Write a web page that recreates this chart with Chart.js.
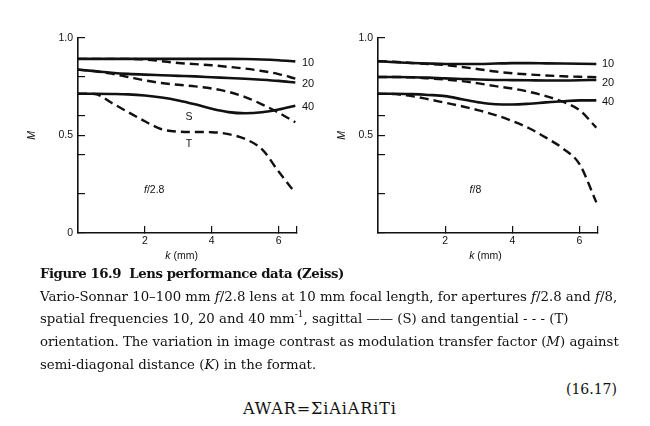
<!DOCTYPE html>
<html><head><meta charset="utf-8">
<script src="https://cdn.jsdelivr.net/npm/chart.js@4.4.0/dist/chart.umd.min.js"></script>
<style>
html,body{margin:0;padding:0;background:#fff;width:650px;height:426px;overflow:hidden;}
#cL{position:absolute;left:0;top:0;}
#cR{position:absolute;left:325px;top:0;}
#cap{position:absolute;left:40px;top:263px;font-family:'DejaVu Serif',serif;font-size:13.3px;line-height:22.7px;color:#111;white-space:nowrap;}
#cap b{font-size:13.3px;letter-spacing:-0.45px;}
sup{font-size:9px;line-height:0;vertical-align:6px;}
#eqn{position:absolute;right:33px;top:381px;font-family:'DejaVu Serif',serif;font-size:14px;color:#111;}
#awar{position:absolute;left:243px;top:399px;font-family:'DejaVu Serif',serif;font-size:16px;letter-spacing:0.9px;color:#111;}
</style></head>
<body>
<canvas id="cL" width="325" height="268"></canvas>
<canvas id="cR" width="325" height="268"></canvas>
<div id="cap"><b>Figure 16.9&nbsp; Lens performance data (Zeiss)</b><br>Vario-Sonnar 10–100 mm <i>f</i>/2.8 lens at 10 mm focal length, for apertures <i>f</i>/2.8 and <i>f</i>/8,<br>spatial frequencies 10, 20 and 40 mm<sup>-1</sup>, sagittal —— (S) and tangential - - - (T)<br>orientation. The variation in image contrast as modulation transfer factor (<i>M</i>) against<br>semi-diagonal distance (<i>K</i>) in the format.</div>
<div id="eqn">(16.17)</div>
<div id="awar">AWAR=ΣiAiARiTi</div>
<script>
// semi-diagonal distance k (mm)
const k = [0,0.5,1,1.5,2,2.5,3,3.5,4,4.5,5,5.5,6,6.5];
// f/2.8 — MTF (M) for 10, 20, 40 mm^-1, sagittal (S) and tangential (T)
const f28_10S = [0.893,0.893,0.893,0.893,0.893,0.893,0.893,0.893,0.893,0.893,0.892,0.890,0.886,0.880];
const f28_10T = [0.893,0.893,0.893,0.893,0.890,0.881,0.872,0.866,0.860,0.852,0.843,0.831,0.815,0.792];
const f28_20S = [0.838,0.830,0.822,0.816,0.812,0.809,0.806,0.803,0.799,0.795,0.791,0.786,0.780,0.772];
const f28_20T = [0.838,0.830,0.817,0.800,0.783,0.769,0.760,0.752,0.741,0.724,0.697,0.660,0.617,0.568];
const f28_40S = [0.714,0.714,0.713,0.711,0.705,0.695,0.680,0.660,0.637,0.620,0.614,0.619,0.633,0.653];
const f28_40T = [0.714,0.713,0.668,0.620,0.573,0.532,0.520,0.518,0.517,0.507,0.482,0.430,0.315,0.205];
// f/8
const f8_10S = [0.881,0.876,0.872,0.869,0.867,0.867,0.867,0.869,0.871,0.871,0.870,0.869,0.868,0.867];
const f8_10T = [0.881,0.878,0.872,0.867,0.861,0.851,0.840,0.828,0.819,0.813,0.808,0.804,0.801,0.799];
const f8_20S = [0.800,0.800,0.799,0.797,0.793,0.790,0.787,0.785,0.784,0.783,0.782,0.782,0.783,0.785];
const f8_20T = [0.800,0.800,0.798,0.793,0.787,0.779,0.767,0.753,0.741,0.724,0.702,0.673,0.630,0.540];
const f8_40S = [0.714,0.714,0.712,0.708,0.702,0.686,0.670,0.660,0.659,0.663,0.670,0.676,0.680,0.680];
const f8_40T = [0.714,0.712,0.702,0.686,0.668,0.650,0.629,0.605,0.574,0.537,0.489,0.434,0.353,0.157];
// axis ticks
const xTicks = [2,4,6,6.55];
const xTickLabels = ['2','4','6',''];
const yTicks = [0,0.2,0.4,0.5,0.6,0.8,1.0];
const yTickLabelsLeft = ['0','','','0.5','','','1.0'];
const yTickLabelsRight = ['','','','0.5','','','1.0'];
const freqLabels = ['10','20','40'];

const SANS = "'Liberation Sans', Arial, sans-serif";
const INK = '#111';

const textPlugin = {
  id: 'txt',
  afterDatasetsDraw(chart, args, opts) {
    const {ctx, chartArea} = chart;
    const x = chart.scales.x, y = chart.scales.y;
    ctx.save();
    ctx.fillStyle = INK;
    ctx.textBaseline = 'middle';
    (opts.items || []).forEach(it => {
      const parts = it.parts;
      const size = it.size || 11;
      let w = 0;
      parts.forEach(p => { ctx.font = (p[1] ? 'italic ' : '') + size + 'px ' + SANS; w += ctx.measureText(p[0]).width; });
      let px = it.px != null ? chartArea.right + it.px : x.getPixelForValue(it.x) - (it.align === 'left' ? 0 : w / 2);
      const py = it.dy != null ? chartArea.bottom + it.dy : y.getPixelForValue(it.y);
      ctx.textAlign = 'left';
      parts.forEach(p => {
        ctx.font = (p[1] ? 'italic ' : '') + size + 'px ' + SANS;
        ctx.fillText(p[0], px, py);
        px += ctx.measureText(p[0]).width;
      });
    });
    ctx.restore();
  }
};

function makeChart(id, series, cfg) {
  return new Chart(document.getElementById(id), {
    type: 'line',
    data: {
      datasets: series.map(s => ({
        data: k.map((kk, i) => ({x: kk, y: s.v[i]})),
        borderColor: INK,
        borderWidth: s.dashed ? 2.4 : 2.6,
        borderDash: s.dashed ? [9, 5] : [],
        pointRadius: 0,
        cubicInterpolationMode: 'monotone',
        fill: false
      }))
    },
    options: {
      responsive: false,
      animation: false,
      layout: {padding: {left: cfg.padLeft, right: cfg.padRight, top: 38, bottom: 0}},
      plugins: {legend: {display: false}, tooltip: {enabled: false}, txt: {items: cfg.items}},
      scales: {
        x: {
          type: 'linear', min: 0, max: 6.55,
          afterBuildTicks: s => { s.ticks = xTicks.map(v => ({value: v})); },
          afterFit: s => { s.height = 35; },
          ticks: {
            autoSkip: false, maxRotation: 0, padding: 9, color: INK,
            font: {family: SANS, size: 10.5},
            callback: (v, i) => xTickLabels[i]
          },
          grid: {drawOnChartArea: false, drawTicks: true, tickLength: -7, color: INK, lineWidth: 1.2},
          border: {display: true, color: INK, width: 1.6}
        },
        y: {
          min: 0, max: 1,
          afterBuildTicks: s => { s.ticks = yTicks.map(v => ({value: v})); },
          afterFit: s => { s.width = cfg.yWidth; },
          ticks: {
            autoSkip: false, padding: 12, color: INK,
            font: {family: SANS, size: 10.5},
            callback: (v, i) => cfg.yLabels[i]
          },
          grid: {drawOnChartArea: false, drawTicks: true, tickLength: -7, color: INK, lineWidth: 1.2},
          border: {display: true, color: INK, width: 1.6},
          title: {display: true, text: 'M', color: INK, font: {family: SANS, size: 10.5, style: 'italic'}, padding: {top: 6, bottom: 0}}
        }
      }
    },
    plugins: [textPlugin]
  });
}

makeChart('cL', [
  {v: f28_10S}, {v: f28_20S}, {v: f28_40S},
  {v: f28_10T, dashed: true}, {v: f28_20T, dashed: true}, {v: f28_40T, dashed: true}
], {
  padLeft: 20, padRight: 28, yWidth: 58, yLabels: yTickLabelsLeft,
  items: [
    {parts: [[freqLabels[0]]], px: 5, y: 0.872, size: 11},
    {parts: [[freqLabels[1]]], px: 5, y: 0.764, size: 11},
    {parts: [[freqLabels[2]]], px: 5, y: 0.646, size: 11},
    {parts: [['S']], x: 3.32, y: 0.595, size: 10.5},
    {parts: [['T']], x: 3.32, y: 0.456, size: 10.5},
    {parts: [['f', true], ['/2.8']], x: 2.28, y: 0.22, size: 10.5},
    {parts: [['k', true], [' (mm)']], x: 3.1, dy: 23, size: 10.5}
  ]
});

makeChart('cR', [
  {v: f8_10S}, {v: f8_20S}, {v: f8_40S},
  {v: f8_10T, dashed: true}, {v: f8_20T, dashed: true}, {v: f8_40T, dashed: true}
], {
  padLeft: 5, padRight: 52, yWidth: 48, yLabels: yTickLabelsRight,
  items: [
    {parts: [[freqLabels[0]]], px: 4, y: 0.867, size: 11},
    {parts: [[freqLabels[1]]], px: 4, y: 0.769, size: 11},
    {parts: [[freqLabels[2]]], px: 4, y: 0.672, size: 11},
    {parts: [['f', true], ['/8']], x: 2.9, y: 0.22, size: 10.5},
    {parts: [['k', true], [' (mm)']], x: 3.2, dy: 23, size: 10.5}
  ]
});
</script>
</body></html>
